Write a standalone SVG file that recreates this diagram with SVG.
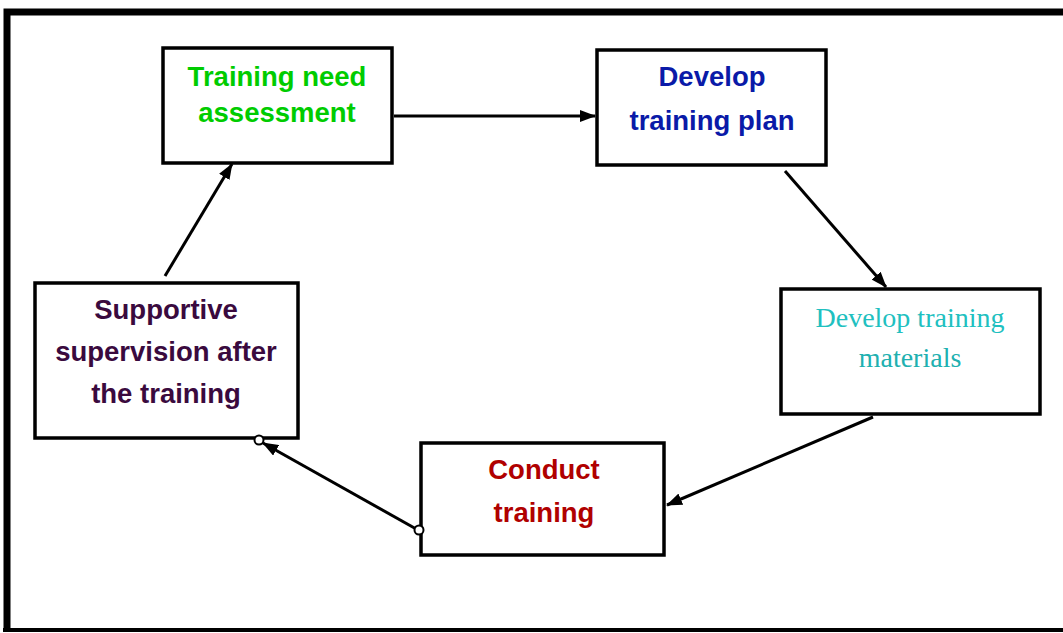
<svg xmlns="http://www.w3.org/2000/svg" width="1063" height="633" viewBox="0 0 1063 633">
<style>
.box{fill:#fff;stroke:#000;stroke-width:3.5}
.t{font-family:"Liberation Sans",Arial,sans-serif;font-weight:bold;font-size:27.5px;text-anchor:middle}
.c{stroke:#000;stroke-width:3;fill:none}
</style>
<defs>
<marker id="ah" markerWidth="16" markerHeight="12" refX="15" refY="6" orient="auto" markerUnits="userSpaceOnUse">
<path d="M0,0 L16,6 L0,12 Z" fill="#000"/>
</marker>
</defs>
<rect width="1063" height="633" fill="#fff"/>
<path d="M7,630 L7,12 L1063,12" fill="none" stroke="#000" stroke-width="7"/>
<line x1="3" y1="630" x2="1063" y2="630" stroke="#000" stroke-width="4"/>
<g id="n1"><rect class="box" x="163" y="48" width="229" height="115"/>
<text class="t" fill="#00cc00" x="277" y="86">Training need</text>
<text class="t" fill="#00cc00" x="277" y="122">assessment</text></g>
<g id="n2"><rect class="box" x="597" y="50" width="229" height="115"/>
<text class="t" fill="#0a1aa8" x="712" y="86">Develop</text>
<text class="t" fill="#0a1aa8" x="712" y="130">training plan</text></g>
<g id="n3"><rect class="box" x="781" y="289" width="259" height="125"/>
<text fill="#20c0c0" x="910" y="327" font-family="'Liberation Serif',serif" font-size="28" text-anchor="middle">Develop training</text>
<text fill="#20b0b0" x="910" y="367" font-family="'Liberation Serif',serif" font-size="28" text-anchor="middle">materials</text></g>
<g id="n4"><rect class="box" x="421" y="443" width="243" height="112"/>
<text class="t" fill="#b00000" x="544" y="479">Conduct</text>
<text class="t" fill="#b00000" x="544" y="522">training</text></g>
<g id="n5"><rect class="box" x="35" y="283" width="263" height="155"/>
<text class="t" fill="#3a0a3e" x="166" y="319">Supportive</text>
<text class="t" fill="#3a0a3e" x="166" y="361">supervision after</text>
<text class="t" fill="#3a0a3e" x="166" y="403">the training</text></g>
<g id="connectors">
<line class="c" x1="394" y1="116" x2="595" y2="116" marker-end="url(#ah)"/>
<line class="c" x1="785" y1="171" x2="886" y2="287" marker-end="url(#ah)"/>
<line class="c" x1="873" y1="417" x2="667" y2="505" marker-end="url(#ah)"/>
<line class="c" x1="418" y1="530" x2="263" y2="443" marker-end="url(#ah)"/>
<line class="c" x1="165" y1="276" x2="232" y2="164" marker-end="url(#ah)"/>
<circle cx="419" cy="530" r="4.5" fill="#fff" stroke="#000" stroke-width="2"/>
<circle cx="259" cy="440" r="4.5" fill="#fff" stroke="#000" stroke-width="2"/>
</g>
</svg>
